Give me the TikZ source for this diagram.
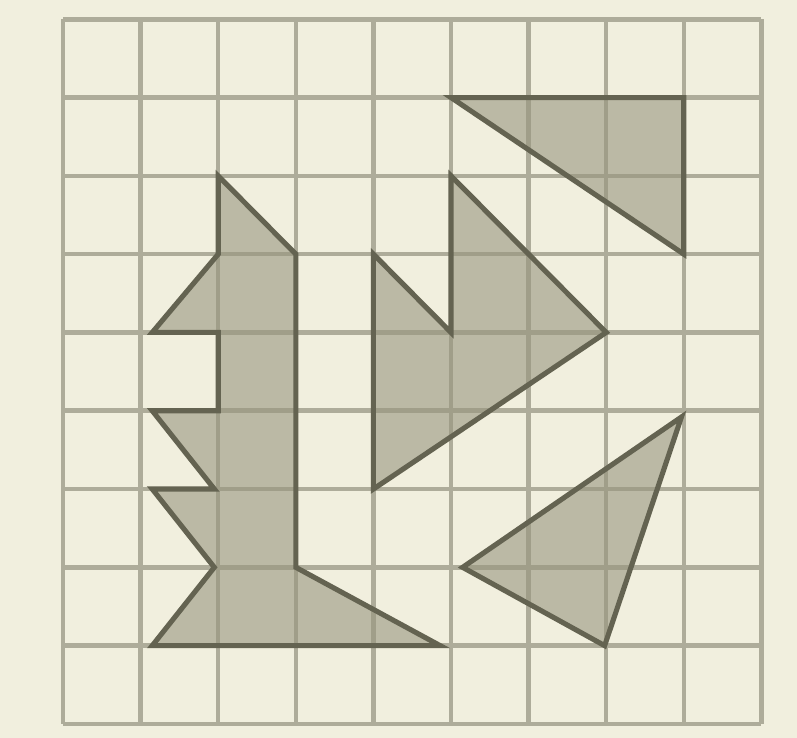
\documentclass[tikz,border=0pt]{standalone}
\definecolor{paper}{HTML}{F1EFDE}
\definecolor{gridline}{HTML}{AEAC9A}
\definecolor{shade}{HTML}{98957F}
\definecolor{edge}{HTML}{646351}

\begin{document}
\begin{tikzpicture}[x=1.552cm, y=1.566cm,
  gridrule/.style={draw=gridline, line width=2.6pt},
  piece/.style={fill=shade, fill opacity=0.6, draw=edge, line width=2.9pt, line join=miter}]
  \fill[paper] (-0.812,-0.179) rectangle (9.459,9.246);
  \foreach \i in {0,...,9} {
    \draw[gridrule] (\i,0) -- (\i,9);
    \draw[gridrule] (0,\i) -- (9,\i);
  }
  \filldraw[piece] (5,8) -- (8,8) -- (8,6) -- cycle;
  \filldraw[piece] (5,7) -- (7,5) -- (4,3) -- (4,6) -- (5,5) -- cycle;
  \filldraw[piece] (2,7) -- (3,6) -- (3,2) -- (4.86,1) -- (1.15,1) -- (1.95,2) -- (1.15,3)
    -- (1.95,3) -- (1.15,4) -- (2,4) -- (2,5) -- (1.15,5) -- (2,6) -- cycle;
  \filldraw[piece] (7.97,3.92) -- (5.15,2) -- (6.98,1) -- cycle;
\end{tikzpicture}
\end{document}
